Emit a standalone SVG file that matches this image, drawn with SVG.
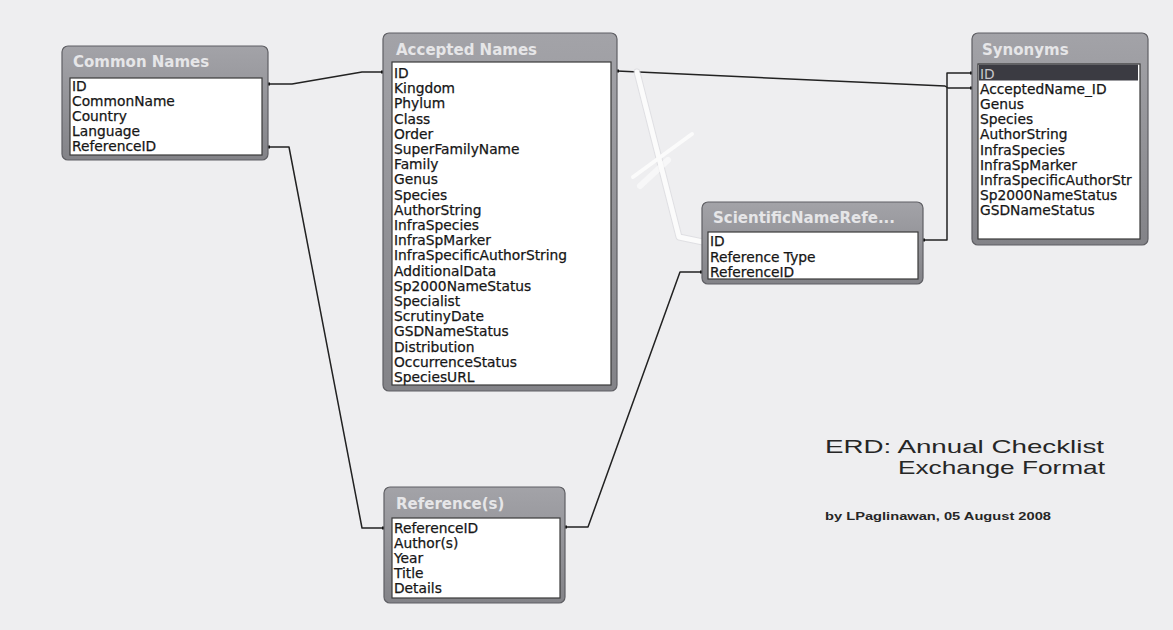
<svg xmlns="http://www.w3.org/2000/svg" width="1173" height="630" viewBox="0 0 1173 630">
<defs>
<linearGradient id="tg" x1="0" y1="0" x2="0" y2="1">
<stop offset="0" stop-color="#a3a3a8"/>
<stop offset="1" stop-color="#838388"/>
</linearGradient>
</defs>
<style>
.frame{fill:url(#tg);stroke:#5f5f64;stroke-width:1.2}
.list{fill:#ffffff;stroke:#3a3a3a;stroke-width:1.2}
.title{font-family:"DejaVu Sans",sans-serif;font-weight:bold;font-size:15px;fill:#e6e6e8}
.field{font-family:"DejaVu Sans",sans-serif;font-size:13.8px;fill:#161616;stroke:#161616;stroke-width:0.25}
.conn{fill:none;stroke:#222;stroke-width:1.5;stroke-linejoin:round}
.dot{fill:#111}
.wl{fill:none;stroke:#fbfbfb;stroke-linecap:round;stroke-linejoin:round}
.cap{font-family:"Liberation Sans",Arial,sans-serif;fill:#262626}
</style>
<rect x="0" y="0" width="1173" height="630" fill="#eeeef0"/>

<g id="connectors">
<polyline class="conn" points="268,84 292,84 362,72 383,72"/>
<polyline class="conn" points="268,147 289,147 362,528 384,528"/>
<polyline class="conn" points="617,71 945,86 948,88 972,88"/>
<polyline class="conn" points="923,240 947,240 947,73 972,73"/>
<polyline class="conn" points="565,527 588,527 680,272 702,272"/>
<rect class="dot" x="267" y="82.5" width="3" height="3"/>
<rect class="dot" x="381" y="70.5" width="3" height="3"/>
<rect class="dot" x="267" y="145.5" width="3" height="3"/>
<rect class="dot" x="382" y="526.5" width="3" height="3"/>
<rect class="dot" x="616" y="69.5" width="3" height="3"/>
<rect class="dot" x="970" y="86.5" width="3" height="3"/>
<rect class="dot" x="922" y="238.5" width="3" height="3"/>
<rect class="dot" x="970" y="71.5" width="3" height="3"/>
<rect class="dot" x="564" y="525.5" width="3" height="3"/>
<rect class="dot" x="700" y="270.5" width="3" height="3"/>
<polyline fill="none" stroke="#d6d6da" stroke-width="7" stroke-linecap="round" stroke-linejoin="round" opacity="0.6" points="637,72 679,237 703,242"/>
<polyline class="wl" stroke-width="5" points="637,72 679,237 703,242"/>
<line class="wl" stroke-width="4" x1="633" y1="177" x2="692" y2="134"/>
<line class="wl" stroke-width="6" opacity="0.7" x1="640" y1="186" x2="668" y2="160"/>
</g>

<g id="common-names">
<rect class="frame" x="62" y="46" width="206" height="114" rx="6"/>
<rect class="list" x="70" y="78" width="192" height="77"/>
<text class="title" x="73" y="67">Common Names</text>
<text class="field" x="72" y="91">ID</text>
<text class="field" x="72" y="106">CommonName</text>
<text class="field" x="72" y="121">Country</text>
<text class="field" x="72" y="136">Language</text>
<text class="field" x="72" y="151">ReferenceID</text>
</g>

<g id="accepted-names">
<rect class="frame" x="383" y="33" width="234" height="358" rx="6"/>
<rect class="list" x="392" y="62" width="219" height="323"/>
<text class="title" x="396" y="55">Accepted Names</text>
<text class="field" x="394" y="78">ID</text>
<text class="field" x="394" y="93.2">Kingdom</text>
<text class="field" x="394" y="108.4">Phylum</text>
<text class="field" x="394" y="123.6">Class</text>
<text class="field" x="394" y="138.8">Order</text>
<text class="field" x="394" y="154">SuperFamilyName</text>
<text class="field" x="394" y="169.2">Family</text>
<text class="field" x="394" y="184.4">Genus</text>
<text class="field" x="394" y="199.6">Species</text>
<text class="field" x="394" y="214.8">AuthorString</text>
<text class="field" x="394" y="230">InfraSpecies</text>
<text class="field" x="394" y="245.2">InfraSpMarker</text>
<text class="field" x="394" y="260.4">InfraSpecificAuthorString</text>
<text class="field" x="394" y="275.6">AdditionalData</text>
<text class="field" x="394" y="290.8">Sp2000NameStatus</text>
<text class="field" x="394" y="306">Specialist</text>
<text class="field" x="394" y="321.2">ScrutinyDate</text>
<text class="field" x="394" y="336.4">GSDNameStatus</text>
<text class="field" x="394" y="351.6">Distribution</text>
<text class="field" x="394" y="366.8">OccurrenceStatus</text>
<text class="field" x="394" y="382">SpeciesURL</text>
</g>

<g id="synonyms">
<rect class="frame" x="972" y="33" width="176" height="212" rx="6"/>
<rect class="list" x="978" y="64" width="162" height="175"/>
<rect x="979" y="64.5" width="159" height="16" fill="#3b3b42"/>
<text class="title" x="982" y="55">Synonyms</text>
<text class="field" x="980" y="79" style="fill:#c8c8cc;stroke:none">ID</text>
<text class="field" x="980" y="94.1">AcceptedName_ID</text>
<text class="field" x="980" y="109.2">Genus</text>
<text class="field" x="980" y="124.3">Species</text>
<text class="field" x="980" y="139.4">AuthorString</text>
<text class="field" x="980" y="154.5">InfraSpecies</text>
<text class="field" x="980" y="169.6">InfraSpMarker</text>
<text class="field" x="980" y="184.7">InfraSpecificAuthorStr</text>
<text class="field" x="980" y="199.8">Sp2000NameStatus</text>
<text class="field" x="980" y="215">GSDNameStatus</text>
</g>

<g id="scientific-name-references">
<rect class="frame" x="702" y="202" width="221" height="82" rx="6"/>
<rect class="list" x="708" y="232" width="210" height="47"/>
<text class="title" x="713" y="223">ScientificNameRefe...</text>
<text class="field" x="710" y="246">ID</text>
<text class="field" x="710" y="261.5">Reference Type</text>
<text class="field" x="710" y="277">ReferenceID</text>
</g>

<g id="references">
<rect class="frame" x="384" y="487" width="181" height="116" rx="6"/>
<rect class="list" x="392" y="518" width="168" height="80"/>
<text class="title" x="396" y="509">Reference(s)</text>
<text class="field" x="394" y="533">ReferenceID</text>
<text class="field" x="394" y="548">Author(s)</text>
<text class="field" x="394" y="563">Year</text>
<text class="field" x="394" y="578">Title</text>
<text class="field" x="394" y="593">Details</text>
</g>

<g id="caption">
<text class="cap" x="825" y="453" font-size="19" textLength="279" lengthAdjust="spacingAndGlyphs">ERD: Annual Checklist</text>
<text class="cap" x="898" y="474" font-size="19" textLength="207" lengthAdjust="spacingAndGlyphs">Exchange Format</text>
<text class="cap" x="825" y="520" font-size="10" font-weight="bold" textLength="226" lengthAdjust="spacingAndGlyphs">by LPaglinawan, 05 August 2008</text>
</g>
</svg>
